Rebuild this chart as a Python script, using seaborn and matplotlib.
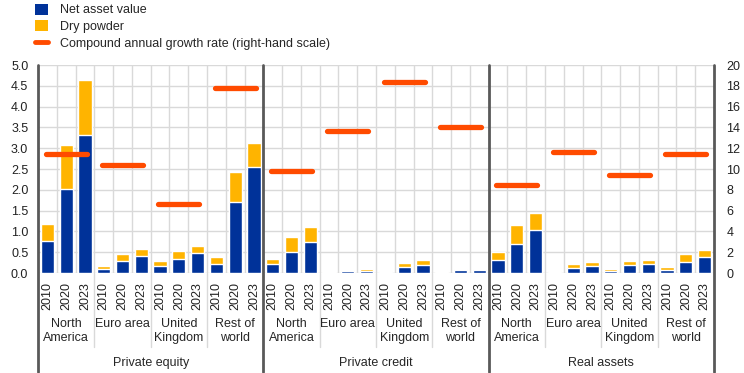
import numpy as np
import pandas as pd
import matplotlib
matplotlib.use("Agg")
import matplotlib.pyplot as plt
import matplotlib.transforms as mtransforms
from matplotlib.patches import Patch
from matplotlib.lines import Line2D
import seaborn as sns

# data (EUR trillions, CAGR in %)
categories = ["Private equity", "Private credit", "Real assets"]
regions = ["North\nAmerica", "Euro area", "United\nKingdom", "Rest of\nworld"]
years = ["2010", "2020", "2023"]

nav_pe = [0.78, 2.02, 3.32, 0.10, 0.30, 0.42, 0.18, 0.34, 0.49, 0.22, 1.71, 2.55]
dry_pe = [0.40, 1.06, 1.32, 0.08, 0.16, 0.16, 0.12, 0.20, 0.17, 0.17, 0.72, 0.58]
nav_pc = [0.22, 0.51, 0.75, 0.01, 0.06, 0.06, 0.03, 0.15, 0.20, 0.00, 0.08, 0.08]
dry_pc = [0.12, 0.36, 0.36, 0.02, 0.02, 0.04, 0.03, 0.10, 0.12, 0.03, 0.02, 0.02]
nav_ra = [0.32, 0.70, 1.04, 0.03, 0.13, 0.18, 0.06, 0.20, 0.22, 0.08, 0.27, 0.39]
dry_ra = [0.19, 0.46, 0.41, 0.03, 0.09, 0.09, 0.04, 0.10, 0.10, 0.07, 0.19, 0.17]

cagr_pe = [11.4, 10.4, 6.6, 17.8]
cagr_pc = [9.8, 13.7, 18.4, 14.0]
cagr_ra = [8.5, 11.6, 9.4, 11.4]

BLUE = "#003299"
YELLOW = "#FFB400"
ORANGE = "#FF4B00"
GRID = "#D9D9D9"
DARK = "#595959"

rows = []
for cat, nav, dry in zip(categories, [nav_pe, nav_pc, nav_ra], [dry_pe, dry_pc, dry_ra]):
    for r_i, reg in enumerate(regions):
        for y_i, yr in enumerate(years):
            k = r_i * 3 + y_i
            rows.append({"cat": cat, "region": reg, "year": yr,
                         "key": f"{cat}|{reg}|{yr}",
                         "nav": nav[k], "total": nav[k] + dry[k]})
df = pd.DataFrame(rows)
order = list(df["key"])

sns.set_style("white")
plt.rcParams["font.family"] = ["Liberation Sans", "DejaVu Sans"]
plt.rcParams["font.size"] = 9

fig = plt.figure(figsize=(7.44, 3.73), dpi=100)
W, H = 744, 373
ax = fig.add_axes([38 / W, 1 - 273 / H, (714 - 38) / W, (273 - 65) / H])

sns.barplot(data=df, x="key", y="total", order=order, color=YELLOW,
            width=0.7, saturation=1, ax=ax, zorder=3)
sns.barplot(data=df, x="key", y="nav", order=order, color=BLUE,
            width=0.7, saturation=1, ax=ax, zorder=4)

n = len(order)
ax.set_xlim(-0.5, n - 0.5)
ax.set_ylim(0, 5)
ax.set_yticks(np.arange(0, 5.01, 0.5))
ax.set_yticklabels([f"{v:.1f}" for v in np.arange(0, 5.01, 0.5)])
ax.set_xticks(range(n))
ax.set_xticklabels(list(df["year"]), rotation=90)
ax.set_xticks(np.arange(0.5, n - 0.5, 1), minor=True)
ax.tick_params(axis="both", length=0, colors="#222222")
ax.tick_params(axis="x", pad=6.5)
ax.tick_params(axis="y", pad=7)
ax.grid(axis="y", color=GRID, lw=1, zorder=0)
ax.grid(axis="x", which="minor", color=GRID, lw=1, zorder=0)
ax.set_axisbelow(True)
ax.set_xlabel("")
ax.set_ylabel("")
for s in ax.spines.values():
    s.set_visible(False)

ax2 = ax.twinx()
ax2.set_ylim(0, 20)
ax2.set_yticks(range(0, 21, 2))
ax2.tick_params(axis="y", length=0, pad=9, colors="#222222")
for s in ax2.spines.values():
    s.set_visible(False)
ax2.set_xlim(-0.5, n - 0.5)

for c_i, cagr in enumerate([cagr_pe, cagr_pc, cagr_ra]):
    for r_i, v in enumerate(cagr):
        start = c_i * 12 + r_i * 3
        ax2.plot([start - 0.1, start + 2.1], [v, v], color=ORANGE, lw=3.8,
                 solid_capstyle="round", zorder=5)

trans = mtransforms.blended_transform_factory(ax.transData, ax.transAxes)
# separators below the axis
for b in range(0, n + 1, 3):
    x = b - 0.5
    if b % 12 == 0:
        ax.plot([x, x], [1, -0.476], transform=trans, color=DARK, lw=2,
                clip_on=False, zorder=6)
    else:
        ax.plot([x, x], [0, -0.356], transform=trans, color=GRID, lw=1,
                clip_on=False, zorder=1)

# region and category labels
for c_i, cat in enumerate(categories):
    for r_i, reg in enumerate(regions):
        ax.text(c_i * 12 + r_i * 3 + 1, -0.218, reg, transform=trans,
                ha="center", va="top", linespacing=1.15)
    ax.text(c_i * 12 + 5.5, -0.435, cat, transform=trans, ha="center", va="center")

handles = [Patch(facecolor=BLUE, edgecolor="none"),
           Patch(facecolor=YELLOW, edgecolor="none"),
           Line2D([0], [0], color=ORANGE, lw=3.5)]
labels = ["Net asset value", "Dry powder", "Compound annual growth rate (right-hand scale)"]
fig.legend(handles, labels, loc="upper left", bbox_to_anchor=(30 / W, 1.004),
           frameon=False, handlelength=1.0, handleheight=1.0, handletextpad=1.0,
           labelspacing=0.3, borderaxespad=0.0)

fig.savefig("out.png", dpi=100)
